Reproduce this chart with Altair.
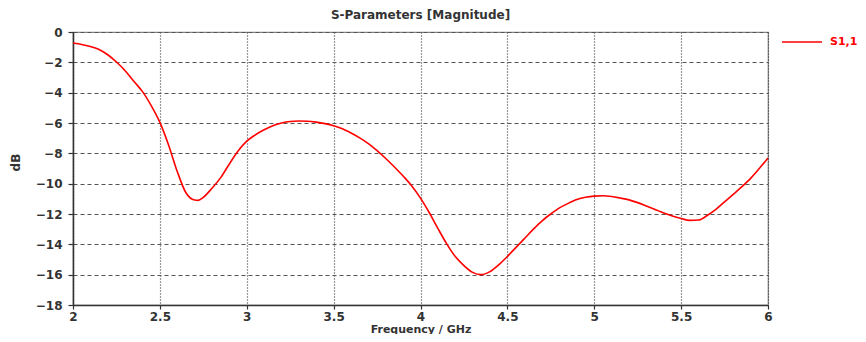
import altair as alt
import pandas as pd

freq = [2.00, 2.05, 2.10, 2.15, 2.20, 2.25, 2.30, 2.35, 2.40, 2.45, 2.50, 2.55, 2.60, 2.65,
        2.70, 2.72, 2.75, 2.80, 2.85, 2.90, 2.95, 3.00, 3.05, 3.10, 3.15, 3.20, 3.25, 3.30,
        3.35, 3.40, 3.45, 3.50, 3.55, 3.60, 3.65, 3.70, 3.75, 3.80, 3.85, 3.90, 3.95, 4.00,
        4.05, 4.10, 4.15, 4.20, 4.25, 4.30, 4.35, 4.40, 4.45, 4.50, 4.55, 4.60, 4.65, 4.70,
        4.75, 4.80, 4.85, 4.90, 4.95, 5.00, 5.05, 5.10, 5.15, 5.20, 5.25, 5.30, 5.35, 5.40,
        5.45, 5.50, 5.55, 5.60, 5.65, 5.70, 5.75, 5.80, 5.85, 5.90, 5.95, 6.00]
s11 = [-0.73, -0.82, -0.96, -1.15, -1.50, -1.98, -2.55, -3.25, -3.93, -4.85, -5.96, -7.45, -9.20, -10.60,
       -11.08, -11.10, -10.90, -10.30, -9.60, -8.70, -7.85, -7.20, -6.78, -6.45, -6.18, -6.00, -5.90, -5.87,
       -5.88, -5.94, -6.04, -6.18, -6.38, -6.66, -6.98, -7.36, -7.82, -8.34, -8.90, -9.50, -10.15, -10.95,
       -11.90, -12.95, -13.95, -14.80, -15.40, -15.85, -16.00, -15.80, -15.35, -14.80, -14.20, -13.60, -13.00, -12.45,
       -12.00, -11.60, -11.30, -11.05, -10.90, -10.82, -10.80, -10.85, -10.95, -11.07, -11.25, -11.47, -11.70, -11.93,
       -12.13, -12.30, -12.42, -12.40, -12.10, -11.70, -11.20, -10.70, -10.20, -9.65, -9.00, -8.30]
series = "S1,1"

x_ticks = [2, 2.5, 3, 3.5, 4, 4.5, 5, 5.5, 6]
y_ticks = [0, -2, -4, -6, -8, -10, -12, -14, -16, -18]

df = pd.DataFrame({"f": freq, "dB": s11, "s": [series] * len(freq)})

FONT = "DejaVu Sans"

chart = alt.Chart(df).mark_line(strokeWidth=1.6, interpolate="monotone").encode(
    x=alt.X("f:Q", title="Frequency / GHz",
            scale=alt.Scale(domain=[2, 6], nice=False, zero=False),
            axis=alt.Axis(values=x_ticks, labelFlush=False, format="~g",
                          gridDash=[1, 2], gridColor="#333", gridOpacity=1, gridWidth=1.2,
                          tickSize=4, labelPadding=2, titleFontSize=11,
                          titleBaseline="bottom", titleY=29)),
    y=alt.Y("dB:Q", title="dB",
            scale=alt.Scale(domain=[-18, 0], nice=False, zero=False),
            axis=alt.Axis(values=y_ticks, labelFlush=False,
                          gridDash=[4, 3], gridColor="#555", gridOpacity=1, gridWidth=1,
                          tickSize=5, labelPadding=6,
                          titleAngle=-90, titleBaseline="middle", titleAlign="center",
                          titleX=-58, titleY=130)),
    color=alt.Color("s:N", scale=alt.Scale(domain=[series], range=["#ff0000"]),
                    legend=alt.Legend(title=None, orient="none", legendX=708, legendY=-11, padding=0,
                                      symbolType="stroke", symbolSize=1600, symbolStrokeWidth=1.6,
                                      labelColor="#ff0000", labelFont=FONT, labelFontSize=11,
                                      labelFontWeight="bold", labelOffset=7)),
).properties(
    width=695, height=273,
    title=alt.TitleParams("S-Parameters [Magnitude]", font=FONT, fontSize=12,
                          fontWeight="bold", color="#333", offset=5, dy=6, anchor="middle"),
    autosize=alt.AutoSizeParams(type="none"),
    padding={"left": 65, "top": 24, "right": 90, "bottom": 29},
).configure_view(
    stroke="#888", strokeWidth=1.2
).configure_axis(
    labelFont=FONT, labelFontSize=12, labelColor="#333", labelFontWeight="bold",
    titleFont=FONT, titleFontSize=12, titleColor="#333", titleFontWeight="bold",
    domainColor="#333", domainWidth=1.5, tickColor="#333", tickWidth=1.2
)

chart.save("out.html", embed_options={"renderer": "svg", "actions": False})
